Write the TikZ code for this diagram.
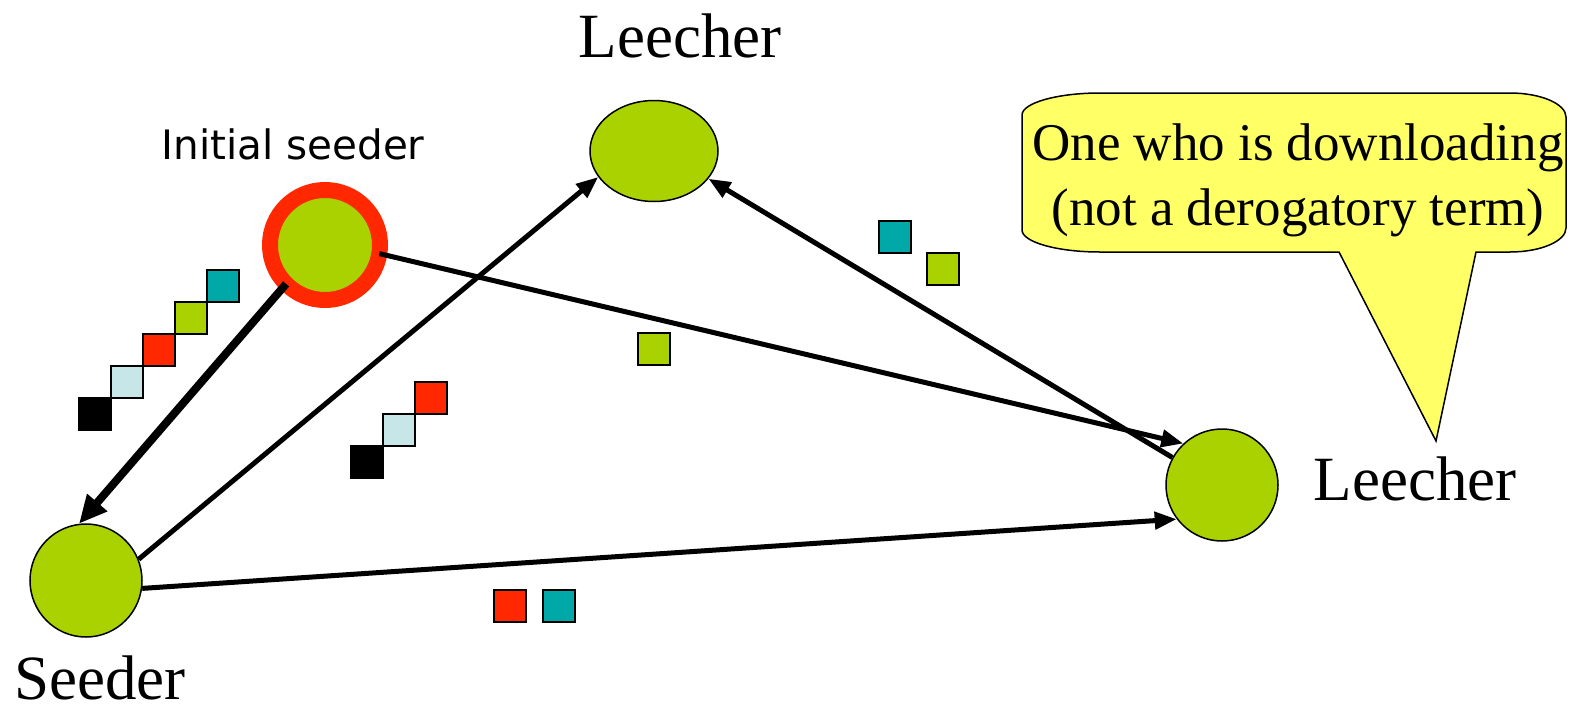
\documentclass[tikz,border=0pt]{standalone}
\usepackage{fontspec}
\setmainfont{Liberation Serif}
\newfontfamily\labsans{DejaVu Sans}
\usetikzlibrary{arrows.meta,shapes.geometric}

\definecolor{peergreen}{RGB}{170,210,0}
\definecolor{seedred}{RGB}{255,40,0}
\definecolor{chipteal}{RGB}{0,168,168}
\definecolor{chipblue}{RGB}{198,230,232}
\definecolor{noteyellow}{RGB}{255,255,102}

\begin{document}
\begin{tikzpicture}[x=1pt,y=-1pt,
  peer/.style={ellipse, fill=peergreen, draw=black, line width=1.5pt, inner sep=0pt},
  chip/.style={rectangle, fill=#1, draw=black, line width=1.5pt, minimum size=32pt,
               inner sep=0pt, anchor=north west},
  link/.style={line width=5pt, -{Triangle[length=22pt,width=17pt]}},
  biglink/.style={line width=8pt, -{Triangle[length=28pt,width=25pt]}},
  bigtext/.style={font=\fontsize{63}{70}\selectfont, inner sep=0pt, anchor=base},
  notetext/.style={font=\fontsize{53}{65}\selectfont, inner sep=0pt, anchor=base},
]
\useasboundingbox (0,0) rectangle (1579,707);

% peers
\node[circle, fill=peergreen, draw=seedred, line width=16pt, minimum size=110pt,
      inner sep=0pt, outer sep=0pt] (init) at (325,245) {};
\node[peer, minimum width=112pt, minimum height=113pt] (seed) at (86,580.5) {};
\node[peer, minimum width=128pt, minimum height=101pt] (tl) at (654,151) {};
\node[peer, minimum width=112pt, minimum height=112pt] (rl) at (1222,485) {};

% labels
\node[inner sep=0pt, anchor=base, font=\labsans\fontsize{40.5}{46}\selectfont] (initlab) at (293,159) {Initial seeder};
\node[bigtext] (tllab) at (680,57) {Leecher};
\node[bigtext] (rllab) at (1415,500) {Leecher};
\node[bigtext] (seedlab) at (100,699) {Seeder};

% pieces held / in transit
\node[chip=black]     (a1) at (78,397) {};
\node[chip=chipblue]  (a2) at (110,365) {};
\node[chip=seedred]   (a3) at (142,333) {};
\node[chip=peergreen] (a4) at (174,301) {};
\node[chip=chipteal]  (a5) at (206,269) {};

\node[chip=black]     (b1) at (350,445) {};
\node[chip=chipblue]  (b2) at (382,413) {};
\node[chip=seedred]   (b3) at (414,381) {};

\node[chip=peergreen] (c1) at (637,332) {};

\node[chip=chipteal]  (d1) at (878,220) {};
\node[chip=peergreen] (d2) at (926,252) {};

\node[chip=seedred]   (e1) at (493,589) {};
\node[chip=chipteal]  (e2) at (542,589) {};

% transfers
\draw[biglink] (init.225) -- (seed.97);
\draw[link] (init.-9) -- (rl.133);
\draw[link] (seed.22) -- (tl.205);
\draw[link] (seed.-8) -- (rl.217);
\draw[link] (rl.151) -- (tl.-27);

% callout balloon
\coordinate (pa) at (1339,252);
\coordinate (pb) at (1476,252);
\coordinate (ptip) at (1436,441);
\draw[fill=noteyellow, line width=1.5pt, line join=miter]
  (1022,115) .. controls (1022,103) and (1057,93) .. (1100,93)
  -- (1510,93) .. controls (1541,93) and (1566,104) .. (1566,117)
  -- (1566,228) .. controls (1566,241) and (1541,252) .. (1510,252)
  -- (pb) -- (ptip) -- (pa)
  -- (1100,252) .. controls (1057,252) and (1022,242) .. (1022,230)
  -- cycle;
\node[notetext] (note1) at (1298,160) {One who is downloading};
\node[notetext] (note2) at (1298,225) {(not a derogatory term)};
\end{tikzpicture}
\end{document}
